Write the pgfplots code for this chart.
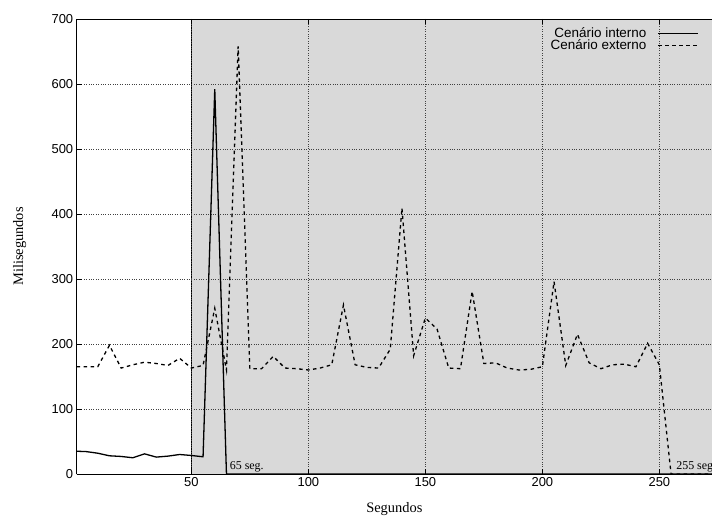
\documentclass[border=0pt]{standalone}
\usepackage{fontspec}
\setmainfont{Liberation Serif}
\setsansfont{Liberation Sans}
\usepackage{pgfplots}
\pgfplotsset{compat=1.18}
\definecolor{shade}{HTML}{D9D9D9}

\begin{document}
\begin{tikzpicture}
  \begin{axis}[
      set layers,
      scale only axis,
      width=635.3bp, height=455bp,
      xmin=1, xmax=272.5,
      ymin=0, ymax=700,
      xtick={50,100,150,200,250},
      ytick={0,100,...,700},
      axis x line=box,
      axis y line*=left,
      grid=major,
      grid style={dotted, black!75, line width=0.6bp},
      major tick length=5bp,
      tick style={black, line width=0.6bp},
      axis line style={line width=0.8bp},
      /pgf/number format/assume math mode=true,
      tick label style={font=\fontsize{13}{15}\sffamily},
      every axis x label/.style={at={(axis description cs:0.5,0)}, yshift=-35bp, anchor=center},
      every axis y label/.style={at={(axis description cs:0,0.5)}, xshift=-57bp, rotate=90, anchor=center},
      label style={font=\fontsize{14.5}{16}\selectfont},
      xlabel={Segundos},
      ylabel={Milisegundos},
      legend style={at={(0.981,0.988)}, anchor=north east, draw=none, fill=none,
        font=\fontsize{13.5}{14}\sffamily, row sep=-3bp, inner sep=1bp},
      legend cell align=right,
      legend plot pos=right,
      legend image code/.code={\path (0bp,0bp); \draw[#1] (9bp,0bp) -- (49bp,0bp);},
    ]
    % shaded region
    \addplot[on layer=axis background, fill=shade, draw=black, line width=0.8bp, forget plot]
      coordinates {(50,0) (50,700) (290,700) (290,0)} -- cycle;

    \addplot[black, line width=1.3bp, sharp plot] coordinates {
      (1,35) (5,34.5) (10,32) (15,28) (20,27) (25,25) (30,31) (35,26)
      (40,27.5) (45,30) (50,28.5) (55,26.5) (60,592) (65,0) (70,0)
      (100,0) (150,0) (200,0) (250,0) (275,0)
    };
    \addlegendentry{Cenário interno}

    \addplot[black, line width=1.3bp, dash pattern=on 3.5bp off 3.5bp, sharp plot] coordinates {
      (1,165) (5,165) (10,165) (15,198) (20,163) (25,168) (30,172) (35,170)
      (40,167) (45,178) (50,163) (55,167) (60,255) (65,160) (70,658) (75,162)
      (80,162) (85,181) (90,163) (95,162) (100,160) (105,163) (110,168) (115,260)
      (120,168) (125,164) (130,163) (135,192) (140,409) (145,182) (150,240) (155,223)
      (160,163) (165,162) (170,281) (175,170) (180,171) (185,163) (190,160) (195,161)
      (200,165) (205,296) (210,167) (215,215) (220,171) (225,162) (230,168) (235,169)
      (240,165) (245,201) (250,168) (255,0) (260,0) (265,0) (270,0) (275,0)
    };
    \addlegendentry{Cenário externo}

    \node[anchor=south west, inner sep=2bp, font=\fontsize{12}{13}\selectfont] at (axis cs:65.5,0) {65 seg.};
    \node[anchor=south west, inner sep=2bp, font=\fontsize{12}{13}\selectfont] at (axis cs:256.3,0) {255 seg.};
  \end{axis}
  \pgfresetboundingbox
  \path[use as bounding box] (-76.7bp,-46bp) rectangle (635.3bp,474bp);
\end{tikzpicture}
\end{document}
